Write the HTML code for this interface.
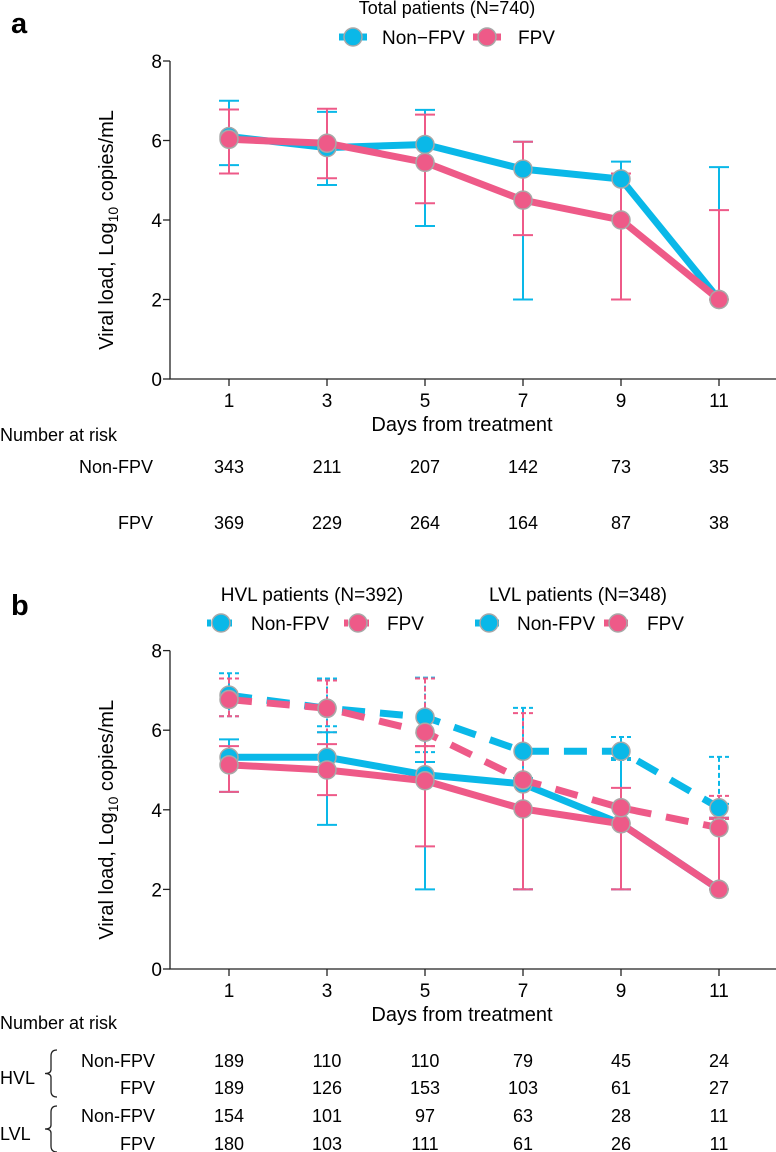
<!DOCTYPE html>
<html><head><meta charset="utf-8"><style>
body{margin:0;background:#fff}
svg{display:block;font-family:"Liberation Sans",Arial,sans-serif}
</style></head><body>
<svg id="chart" width="776" height="1152" viewBox="0 0 776 1152" xmlns="http://www.w3.org/2000/svg">
<text x="11" y="33" font-size="29" font-weight="bold">a</text>
<text x="11" y="615" font-size="29" font-weight="bold">b</text>
<g id="gA"></g>
<g id="gB"></g>
</svg>
<script>
const days=[1,3,5,7,9,11];
const yTicks=[0,2,4,6,8];
// Panel a
const aNon=[6.1,5.82,5.9,5.28,5.03,2.0];
const aNonHi=[7.0,6.72,6.77,5.97,5.47,5.33];
const aNonLo=[5.38,4.88,3.85,2.0,2.0,2.0];
const aFpv=[6.03,5.93,5.45,4.5,4.0,2.0];
const aFpvHi=[6.78,6.8,6.65,5.97,5.17,4.25];
const aFpvLo=[5.17,5.05,4.42,3.62,2.0,2.0];
const aRiskNon=[343,211,207,142,73,35];
const aRiskFpv=[369,229,264,164,87,38];
// Panel b
const hNon=[6.88,6.55,6.33,5.47,5.47,4.05];
const hNonHi=[7.43,7.3,7.32,6.56,5.83,5.33];
const hNonLo=[6.35,6.1,5.45,2.0,5.25,4.15];
const hFpv=[6.77,6.55,5.95,4.75,4.05,3.55];
const hFpvHi=[7.3,7.25,7.3,6.43,5.3,4.35];
const hFpvLo=[6.35,5.95,5.6,2.0,2.0,3.77];
const lNon=[5.32,5.32,4.88,4.65,3.65,2.0];
const lNonHi=[5.77,5.95,5.2,4.8,5.3,3.8];
const lNonLo=[4.45,3.62,2.0,2.0,2.0,2.0];
const lFpv=[5.13,5.0,4.73,4.02,3.65,2.0];
const lFpvHi=[5.6,5.65,5.6,4.75,4.55,3.8];
const lFpvLo=[4.45,4.37,3.08,2.0,2.0,2.0];
const bRisk=[[189,110,110,79,45,24],[189,126,153,103,61,27],[154,101,97,63,28,11],[180,103,111,61,26,11]];

const BLUE="#0ab8e8",PINK="#ee5a88",NS="http://www.w3.org/2000/svg";
const X0=170,X1=776;
const xs=d=>229+(d-1)*49;
function mk(p,tag,at){const e=document.createElementNS(NS,tag);for(const k in at)e.setAttribute(k,at[k]);p.appendChild(e);return e;}
function txt(p,x,y,s,o){const e=mk(p,'text',Object.assign({x:x,y:y,'font-size':18},o||{}));e.textContent=s;return e;}

function axes(g,ys,yBot){
  const ax=mk(g,'path',{d:`M${X0} ${ys(8)}V${yBot}H${X1}`,stroke:'#222',fill:'none','stroke-width':1.3});
  
  
  yTicks.forEach(t=>{
    mk(g,'line',{x1:X0-7,x2:X0,y1:ys(t),y2:ys(t),stroke:'#222','stroke-width':1.3});
    const tl=txt(g,X0-8,ys(t)+7,String(t),{'text-anchor':'end','font-size':19});
    
    
  });
  days.forEach(d=>{
    mk(g,'line',{x1:xs(d),x2:xs(d),y1:yBot,y2:yBot+7,stroke:'#222','stroke-width':1.3});
    const tl=txt(g,xs(d),yBot+28,String(d),{'text-anchor':'middle','font-size':19});
    
    
  });
  const xt=txt(g,462,yBot+52,'Days from treatment',{'text-anchor':'middle','font-size':20});
  
  
  const cy=(ys(8)+yBot)/2+10;
  const yt=txt(g,0,0,'',{'text-anchor':'middle','font-size':20,transform:`translate(113 ${cy}) rotate(-90)`});
  yt.innerHTML='Viral load, Log<tspan font-size="14" dy="5">10</tspan><tspan dy="-5"> copies/mL</tspan>';
  
  
}
function errs(g,ys,hi,lo,col,dash,off){
  days.forEach((d,i)=>{
    const x=xs(d)+(off||0);
    const e=mk(g,'g',{stroke:col,'stroke-width':2,'stroke-dasharray':dash||'none'});
    
    
    mk(e,'line',{x1:x,x2:x,y1:ys(hi[i]),y2:ys(lo[i])});
    mk(e,'line',{x1:x-10,x2:x+10,y1:ys(hi[i]),y2:ys(hi[i])});
    mk(e,'line',{x1:x-10,x2:x+10,y1:ys(lo[i]),y2:ys(lo[i])});
  });
}
function series(g,ys,vals,col,dash,name){
  const s=mk(g,'g',{});
  
  
  mk(s,'polyline',{points:days.map((d,i)=>xs(d)+','+ys(vals[i])).join(' '),fill:'none',stroke:col,'stroke-width':7,'stroke-dasharray':dash||'none'});
  days.forEach((d,i)=>{
    const c=mk(s,'circle',{cx:xs(d),cy:ys(vals[i]),r:9,fill:col,stroke:'#a8a8a8','stroke-width':1.5});
    
    
  });
}
function legendItem(g,x,y,col,dash,label,tx){
  const it=mk(g,'g',{});
  
  
  mk(it,'line',{x1:x-14,x2:x+14,y1:y,y2:y,stroke:col,'stroke-width':7,'stroke-dasharray':dash||'none'});
  mk(it,'circle',{cx:x,cy:y,r:9,fill:col,stroke:'#a8a8a8','stroke-width':1.5});
  txt(it,tx,y+7,label,{'font-size':19});
}

// Panel A
(function(){
  const g=document.getElementById('gA');
  const ys=v=>379-v*39.75;
  axes(g,ys,379);
  errs(g,ys,aNonHi,aNonLo,BLUE);
  errs(g,ys,aFpvHi,aFpvLo,PINK);
  series(g,ys,aNon,BLUE,null,'series-non-fpv');
  series(g,ys,aFpv,PINK,null,'series-fpv');
  const t=txt(g,447,14,'Total patients (N=740)',{'text-anchor':'middle','font-size':18});
  
  
  legendItem(g,353,37,BLUE,null,'Non\u2212FPV',382);
  legendItem(g,487,37,PINK,null,'FPV',518);
  txt(g,0,441,'Number at risk',{'font-size':18});
  txt(g,153,473,'Non-FPV',{'text-anchor':'end'});
  txt(g,153,529,'FPV',{'text-anchor':'end'});
  days.forEach((d,i)=>{
    txt(g,xs(d),473,String(aRiskNon[i]),{'text-anchor':'middle'});
    txt(g,xs(d),529,String(aRiskFpv[i]),{'text-anchor':'middle'});
  });
})();

// Panel B
(function(){
  const g=document.getElementById('gB');
  const ys=v=>969-v*39.8;
  axes(g,ys,969);
  errs(g,ys,hNonHi,hNonLo,BLUE,'5 3',0);
  errs(g,ys,hFpvHi,hFpvLo,PINK,'5 3',0);
  errs(g,ys,lNonHi,lNonLo,BLUE);
  errs(g,ys,lFpvHi,lFpvLo,PINK);
  series(g,ys,lNon,BLUE,null,'series-lvl-non-fpv');
  series(g,ys,lFpv,PINK,null,'series-lvl-fpv');
  series(g,ys,hNon,BLUE,'23 15','series-hvl-non-fpv');
  series(g,ys,hFpv,PINK,'23 15','series-hvl-fpv');
  const t1=txt(g,312,601,'HVL patients (N=392)',{'text-anchor':'middle','font-size':19});
  
  
  const t2=txt(g,578,601,'LVL patients (N=348)',{'text-anchor':'middle','font-size':19});
  
  
  legendItem(g,221,623,BLUE,'4 3','Non-FPV',251);
  legendItem(g,358,623,PINK,'4 3','FPV',387);
  legendItem(g,489,623,BLUE,'10 4','Non-FPV',517);
  legendItem(g,618,623,PINK,'10 4','FPV',647);
  txt(g,0,1029,'Number at risk',{'font-size':18});
  const rowY=[1067,1094,1122,1150];
  const lab=['Non-FPV','FPV','Non-FPV','FPV'];
  rowY.forEach((y,r)=>{
    txt(g,155,y,lab[r],{'text-anchor':'end'});
    days.forEach((d,i)=>txt(g,xs(d),y,String(bRisk[r][i]),{'text-anchor':'middle'}));
  });
  txt(g,0,1084,'HVL',{});
  txt(g,0,1140,'LVL',{});
  [[1050,1097],[1106,1152]].forEach(([a,b])=>{
    const m=(a+b)/2;
    mk(g,'path',{d:`M57 ${a}Q51 ${a} 51 ${a+6}V${m-4}Q51 ${m} 45 ${m}Q51 ${m} 51 ${m+4}V${b-6}Q51 ${b} 57 ${b}`,fill:'none',stroke:'#222','stroke-width':1.3});
  });
})();
</script>
</body></html>
